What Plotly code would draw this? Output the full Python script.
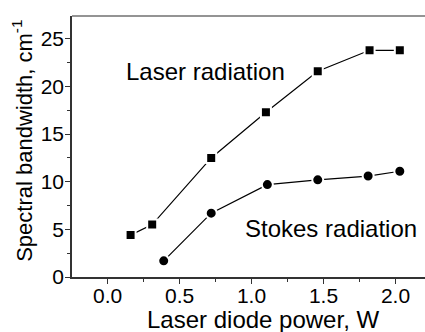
import plotly.graph_objects as go

laser_x = [0.16, 0.31, 0.72, 1.10, 1.46, 1.82, 2.03]
laser_y = [4.4, 5.5, 12.5, 17.3, 21.6, 23.8, 23.8]
stokes_x = [0.39, 0.72, 1.11, 1.46, 1.81, 2.03]
stokes_y = [1.7, 6.7, 9.7, 10.2, 10.6, 11.1]

FONT = "Liberation Sans, Arial, sans-serif"

fig = go.Figure()
fig.add_trace(go.Scatter(
    x=laser_x, y=laser_y, mode="lines+markers",
    line=dict(color="black", width=1.2),
    marker=dict(symbol="square", size=10, color="black",
                line=dict(color="white", width=2)),
    showlegend=False))
fig.add_trace(go.Scatter(
    x=stokes_x, y=stokes_y, mode="lines+markers",
    line=dict(color="black", width=1.2),
    marker=dict(symbol="circle", size=11, color="black",
                line=dict(color="white", width=2)),
    showlegend=False))

fig.add_annotation(x=0.68, y=21.6, text="Laser radiation", showarrow=False,
                   xref="x", yref="y", font=dict(family=FONT, size=24, color="black"))
fig.add_annotation(x=1.55, y=5.1, text="Stokes radiation", showarrow=False,
                   xref="x", yref="y", font=dict(family=FONT, size=24, color="black"))

# axis titles
fig.add_annotation(x=0.541, y=-0.164, xref="paper", yref="paper", showarrow=False,
                   text="Laser diode power, W", xanchor="center", yanchor="middle",
                   font=dict(family=FONT, size=24, color="black"))
fig.add_annotation(x=-0.14, y=0.52, xref="paper", yref="paper", showarrow=False,
                   text="Spectral bandwidth, cm<sup>-1</sup>", textangle=-90,
                   xanchor="center", yanchor="middle",
                   font=dict(family=FONT, size=22, color="black"))

fig.add_shape(type="line", xref="paper", yref="paper", x0=0, x1=1, y0=1, y1=1,
              line=dict(color="#707070", width=1.5))

fig.update_layout(
    width=425, height=332,
    margin=dict(l=72, r=0, t=16, b=55),
    paper_bgcolor="white", plot_bgcolor="white",
    font=dict(family=FONT, color="black"),
    xaxis=dict(
        range=[-0.247, 2.205], tickmode="array",
        tickvals=[0.0, 0.5, 1.0, 1.5, 2.0],
        ticktext=["0.0", "0.5", "1.0", "1.5", "2.0"],
        ticks="outside", ticklen=5, tickwidth=1.2, tickcolor="#333",
        minor=dict(ticks="outside", ticklen=3, tickwidth=1, tickcolor="#333", dtick=0.25, showgrid=False),
        showline=True, linecolor="#333", linewidth=1.5,
        showgrid=False, zeroline=False,
        tickfont=dict(size=21),
        ticklabelstandoff=-6,
    ),
    yaxis=dict(
        range=[0, 27.4], tickmode="array",
        tickvals=[0, 5, 10, 15, 20, 25],
        ticks="outside", ticklen=5, tickwidth=1.2, tickcolor="#333",
        minor=dict(ticks="outside", ticklen=3, tickwidth=1, tickcolor="#333", dtick=2.5, showgrid=False),
        showline=True, linecolor="#333", linewidth=1.5,
        showgrid=False, zeroline=False,
        tickfont=dict(size=21),
        ticklabelstandoff=-3,
    ),
)

fig.write_html("out.html")
